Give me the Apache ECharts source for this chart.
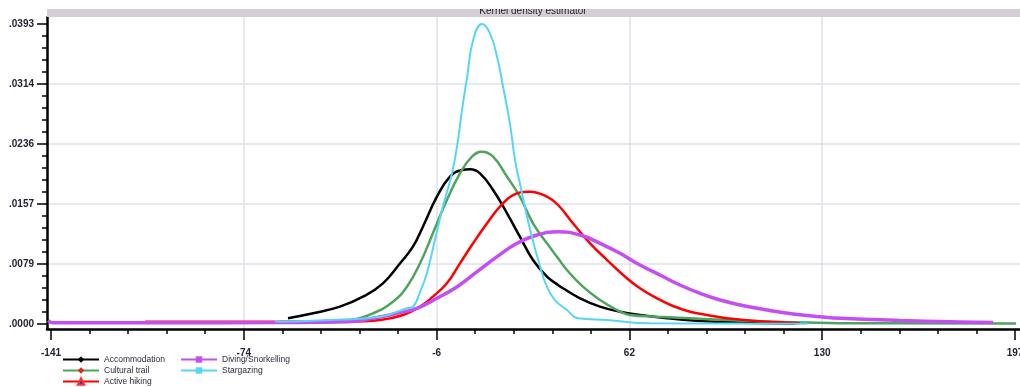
<!DOCTYPE html>
<html>
<head>
<meta charset="utf-8">
<script src="https://cdn.jsdelivr.net/npm/echarts@6/dist/echarts.min.js"></script>
<style>
  html, body { margin: 0; padding: 0; background: #fff; }
  #chart { width: 1020px; height: 387px; }
</style>
</head>
<body>
<div id="chart"></div>
<script>
// tick values and their printed labels
const xTicks = [-141, -73.4, -5.8, 61.8, 129.4, 197]
const xLabels = ['-141', '-74', '-6', '62', '130', '197']
const yTicks = [0, 0.00786, 0.01572, 0.02358, 0.03144, 0.0393]
const yLabels = ['.0000', '.0079', '.0157', '.0236', '.0314', '.0393']

// density curves
const accX = [-57.9, -49.1, -39.7, -31.6, -24.6, -18.6, -14.1, -10.6, -5.7, -1.1, 3.1, 5.9, 9.4, 14.0, 18.9, 23.4, 28.0, 32.9, 36.8, 38.5, 44.5, 51.5, 58.5, 65.5, 75.0, 85.5, 100.6, 119.9]
const accY = [0.00075, 0.0014, 0.00227, 0.00358, 0.00533, 0.00795, 0.01013, 0.01275, 0.01668, 0.0193, 0.02017, 0.02026, 0.01974, 0.01755, 0.0145, 0.01144, 0.00838, 0.0062, 0.00511, 0.00468, 0.00337, 0.00227, 0.00161, 0.00118, 0.00075, 0.00043, 0.0002, 0.00004]

const culX = [-71.2, -50, -39.7, -35.1, -28.1, -21.1, -16.2, -11.6, -7.1, -2.2, 2.4, 6.6, 10.1, 14.0, 18.9, 23.4, 28.0, 32.9, 36.8, 39.9, 45.5, 51.5, 57.5, 62.0, 71.5, 83.1, 96.0, 112.2, 135.7, 197.4]
const culY = [0.0002, 0.0003, 0.0005, 0.0006, 0.0014, 0.00292, 0.00489, 0.00795, 0.01188, 0.01624, 0.01974, 0.02192, 0.02257, 0.02192, 0.0193, 0.01668, 0.01319, 0.01057, 0.00861, 0.00707, 0.00489, 0.00314, 0.00183, 0.00118, 0.00096, 0.00075, 0.00052, 0.0003, 0.0001, 0.00007]

const hikX = [-108.0, -71.2, -37.2, -25.6, -17.6, -11.6, -7.1, -2.2, 2.4, 7.0, 11.9, 16.4, 21.0, 27.0, 32.9, 36.8, 42.0, 48.0, 54.0, 59.6, 65.5, 71.5, 77.1, 83.1, 89.0, 96.0, 105.1, 111.1, 121.6]
const hikY = [0.0003, 0.0003, 0.0003, 0.00052, 0.00118, 0.00227, 0.00358, 0.00533, 0.00795, 0.01057, 0.01319, 0.01537, 0.0169, 0.01733, 0.01668, 0.01559, 0.01319, 0.01057, 0.00838, 0.00642, 0.00468, 0.00337, 0.00236, 0.00161, 0.00118, 0.00075, 0.00043, 0.0003, 0.0001]

const divX = [-142, -140.5, -100, -60.7, -37.2, -28.1, -19.7, -12.7, -5.7, 1.4, 8.4, 15.4, 22.4, 29.4, 36.8, 44.5, 51.5, 58.5, 65.5, 72.5, 79.5, 86.6, 93.6, 100.6, 110.1, 119.2, 128.6, 135.7, 156.7, 174.2, 189.3]
const divY = [0.00045, 0.00018, 0.00015, 0.0002, 0.0003, 0.00075, 0.0014, 0.00206, 0.00337, 0.00489, 0.00685, 0.00882, 0.01057, 0.01166, 0.01209, 0.01166, 0.01057, 0.00926, 0.00773, 0.00642, 0.00511, 0.00402, 0.00314, 0.00249, 0.00183, 0.00131, 0.00096, 0.00075, 0.00046, 0.0003, 0.0002]

const starX = [-62.5, -60.7, -43.2, -25.6, -16.2, -14.1, -11.6, -9.2, -6.4, -3.6, -0.4, 1.7, 3.1, 4.9, 7.0, 10.1, 12.9, 15.4, 17.5, 19.9, 21.7, 23.4, 27.0, 30.5, 32.9, 35.7, 39.9, 43.8, 54.0, 69.0, 100.6, 124.1]
const starY = [0.00039, 0.0003, 0.00052, 0.00096, 0.00206, 0.00227, 0.00419, 0.00664, 0.011, 0.01537, 0.01974, 0.0241, 0.02803, 0.03235, 0.0372, 0.0393, 0.03808, 0.03501, 0.03108, 0.02629, 0.02148, 0.01843, 0.01231, 0.0075, 0.00489, 0.00314, 0.00183, 0.00075, 0.00052, 0.0001, 0.00005, 0.00003]

const pairs = (xs, ys) => xs.map((x, i) => [x, ys[i]])

// minor ticks, 4 between each pair of major ticks
const minorOf = (ticks) => {
  const out = []
  for (let i = 0; i < ticks.length - 1; i++) {
    const step = (ticks[i + 1] - ticks[i]) / 5
    for (let k = 1; k < 5; k++) out.push(ticks[i] + step * k)
  }
  return out
}

const nearestLabel = (ticks, labels, v) => {
  let best = 0
  ticks.forEach((t, i) => { if (Math.abs(t - v) < Math.abs(ticks[best] - v)) best = i })
  return labels[best]
}

const font = "'Liberation Sans', Arial, sans-serif"
const gridColor = '#e3e1ea'
const labelStyle = { fontSize: 10, fontWeight: 'bold', color: '#222233', fontFamily: font }
const tickLine = { color: '#000', width: 1.5 }

const chart = echarts.init(document.getElementById('chart'), null, { renderer: 'canvas' })

const makeLine = (name, data, color, width, symbol, itemStyle) => ({
  name,
  type: 'line',
  data,
  smooth: 0.45,
  showSymbol: false,
  symbol,
  symbolSize: 6,
  lineStyle: { color, width },
  itemStyle: itemStyle || { color },
  emphasis: { disabled: true }
})

const legendBase = {
  orient: 'vertical',
  top: 354,
  height: 40,
  padding: 0,
  itemWidth: 36,
  itemHeight: 8,
  itemGap: 0,
  selectedMode: false,
  textStyle: { fontSize: 8.5, lineHeight: 11, color: '#2a2a3a', fontFamily: font }
}

chart.setOption({
  animation: false,
  backgroundColor: '#ffffff',
  grid: { left: 47, right: 0, top: 17, bottom: 58, containLabel: false, outerBoundsMode: 'none' },
  graphic: [
    { type: 'rect', z: 1, shape: { x: 47, y: 9, width: 973, height: 8 }, style: { fill: '#d6ced6' } },
    { type: 'text', z: 2, x: 533, y: 16.5, style: { text: 'Kernel density estimator', fontSize: 10, fontFamily: font, fill: '#222222', align: 'center', verticalAlign: 'bottom' } },
    { type: 'rect', z: 3, shape: { x: 40, y: 0, width: 980, height: 9 }, style: { fill: '#ffffff' } }
  ],
  legend: [
    Object.assign({}, legendBase, { left: 62, data: ['Accommodation', 'Cultural trail', 'Active hiking'] }),
    Object.assign({}, legendBase, { left: 180, data: ['Diving/Snorkelling', 'Stargazing'] })
  ],
  xAxis: [
    {
      type: 'value',
      min: -142.4,
      max: 198.75,
      axisLine: { show: true, onZero: false, lineStyle: { color: '#000', width: 2.5 } },
      axisTick: { show: true, customValues: xTicks, length: 11, lineStyle: tickLine },
      axisLabel: Object.assign({ customValues: xTicks, margin: 19, formatter: v => nearestLabel(xTicks, xLabels, v) }, labelStyle),
      splitLine: { show: true, lineStyle: { color: ['transparent', gridColor, gridColor, gridColor, gridColor, 'transparent'], width: 1.5 } }
    },
    {
      type: 'value',
      position: 'bottom',
      min: -142.4,
      max: 198.75,
      axisLine: { show: false, onZero: false },
      axisTick: { show: true, customValues: minorOf(xTicks), length: 5, lineStyle: tickLine },
      axisLabel: { show: false },
      splitLine: { show: false }
    }
  ],
  yAxis: [
    {
      type: 'value',
      min: -0.000655,
      max: 0.04022,
      axisLine: { show: true, onZero: false, lineStyle: { color: '#000', width: 2.5 } },
      axisTick: { show: true, customValues: yTicks, length: 10, lineStyle: tickLine },
      axisLabel: Object.assign({ customValues: yTicks, margin: 13, formatter: v => nearestLabel(yTicks, yLabels, v) }, labelStyle),
      splitLine: { show: true, lineStyle: { color: ['transparent', gridColor, gridColor, gridColor, gridColor, 'transparent'], width: 1.5 } }
    },
    {
      type: 'value',
      position: 'left',
      min: -0.000655,
      max: 0.04022,
      axisLine: { show: false, onZero: false },
      axisTick: { show: true, customValues: minorOf(yTicks), length: 5, lineStyle: tickLine },
      axisLabel: { show: false },
      splitLine: { show: false }
    }
  ],
  series: [
    makeLine('Accommodation', pairs(accX, accY), '#000000', 2.5, 'diamond'),
    makeLine('Cultural trail', pairs(culX, culY), '#4ea45e', 2.5, 'diamond', { color: '#e8231e' }),
    makeLine('Active hiking', pairs(hikX, hikY), '#ff0000', 2.5, 'triangle', { color: '#3a2fa8', borderColor: '#ff3030', borderWidth: 1 }),
    makeLine('Diving/Snorkelling', pairs(divX, divY), '#c54ef2', 3.5, 'rect'),
    makeLine('Stargazing', pairs(starX, starY), '#56d6f6', 2, 'rect')
  ]
})
</script>
</body>
</html>
